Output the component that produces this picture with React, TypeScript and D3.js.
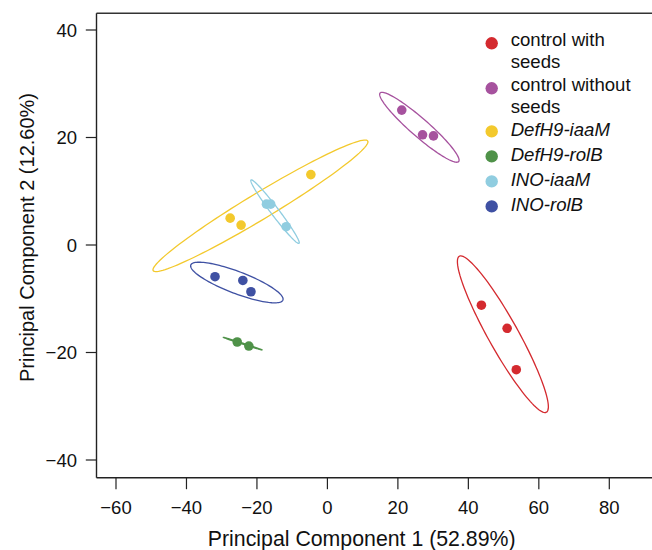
import React from 'react';
import * as d3 from 'd3';

// PCA scores
const groups = ['control with seeds', 'control without seeds', 'DefH9-iaaM', 'DefH9-rolB', 'INO-iaaM', 'INO-rolB'];
const legendLines = [['control with', 'seeds'], ['control without', 'seeds'], ['DefH9-iaaM'], ['DefH9-rolB'], ['INO-iaaM'], ['INO-rolB']];
const italicLabel = [false, false, true, true, true, true];
const colors = ['#d42a2f', '#a6529e', '#f3c92d', '#4f9249', '#90cde0', '#3f51a3'];

const pc1 = [
  [43.7, 51.0, 53.6],
  [21.1, 27.0, 30.1],
  [-27.6, -24.5, -4.7],
  [-25.6, -22.3],
  [-17.3, -16.1, -11.7],
  [-31.9, -24.0, -21.7],
];
const pc2 = [
  [-11.2, -15.5, -23.2],
  [25.1, 20.5, 20.3],
  [5.0, 3.7, 13.1],
  [-18.05, -18.8],
  [7.6, 7.6, 3.4],
  [-5.9, -6.6, -8.7],
];

// confidence ellipses: centre, major and minor semi-axis vectors (data units)
const ellCenter = [[49.8, -16.6], [26.1, 21.9], [-19.0, 7.29], [-24.0, -18.36], [-14.86, 6.2], [-25.7, -6.98]];
const ellMajor = [[12.36, -14.51], [11.14, -6.38], [30.45, 12.06], [5.54, -1.18], [6.82, -5.9], [13.07, -3.26]];
const ellMinor = [[3.72, 1.36], [1.69, 1.26], [1.91, -2.07], [-0.04, -0.09], [0.91, 0.45], [-1.11, -1.91]];

const xTicks = [-60, -40, -20, 0, 20, 40, 60, 80];
const yTicks = [-40, -20, 0, 20, 40];

const W = 652;
const H = 550;
const font = '"Liberation Sans", Arial, Helvetica, sans-serif';

export default function App() {
  const x = d3.scaleLinear().domain([-60, 80]).range([116, 609.3]);
  const y = d3.scaleLinear().domain([-40, 40]).range([460, 30]);

  const left = 96.5;
  const top = 13.3;
  const bottom = 477.7;

  const ts = d3.range(0, 121).map(i => (2 * Math.PI * i) / 120);
  const line = d3.line<number[]>().x(d => x(d[0])).y(d => y(d[1]));
  const fmt = (v: number) => (v < 0 ? '\u2212' + Math.abs(v) : String(v));

  let legendY = 45.7;
  const legendPos = legendLines.map(lines => {
    const p = legendY;
    legendY += 25 + (lines.length - 1) * 20;
    return p;
  });

  return (
    <div style={{ position: 'absolute', left: 0, top: 0 }}>
      <svg width={W} height={H} style={{ display: 'block', background: '#fff' }} fontFamily={font}>
        {/* frame */}
        <line x1={left} x2={W + 10} y1={top} y2={top} stroke="#333" strokeWidth={1.4} />
        <line x1={left} x2={left} y1={top} y2={bottom} stroke="#222" strokeWidth={1.4} />
        <line x1={left} x2={W + 10} y1={bottom} y2={bottom} stroke="#222" strokeWidth={1.4} />

        {/* x axis */}
        {xTicks.map(t => (
          <g key={'x' + t}>
            <line x1={x(t)} x2={x(t)} y1={bottom} y2={bottom + 11.5} stroke="#222" strokeWidth={1.2} />
            <text x={x(t)} y={514} textAnchor="middle" fontSize={18.5} fill="#111">{fmt(t)}</text>
          </g>
        ))}
        {/* y axis */}
        {yTicks.map(t => (
          <g key={'y' + t}>
            <line x1={left - 10.7} x2={left} y1={y(t)} y2={y(t)} stroke="#222" strokeWidth={1.2} />
            <text x={77} y={y(t)} dy="0.36em" textAnchor="end" fontSize={18.5} fill="#111">{fmt(t)}</text>
          </g>
        ))}

        <text x={361.7} y={545.7} textAnchor="middle" fontSize={21.3} fill="#111">Principal Component 1 (52.89%)</text>
        <text transform={`translate(33.5, 237.5) rotate(-90)`} textAnchor="middle" fontSize={20} fill="#111">Principal Component 2 (12.60%)</text>

        {/* ellipses */}
        {groups.map((g, i) => {
          const pts = ts.map(t => [
            ellCenter[i][0] + Math.cos(t) * ellMajor[i][0] + Math.sin(t) * ellMinor[i][0],
            ellCenter[i][1] + Math.cos(t) * ellMajor[i][1] + Math.sin(t) * ellMinor[i][1],
          ]);
          return <path key={'e' + g} d={line(pts) || ''} fill="none" stroke={colors[i]} strokeWidth={1.3} />;
        })}

        {/* points */}
        {groups.map((g, i) =>
          pc1[i].map((v, j) => (
            <circle key={g + j} cx={x(v)} cy={y(pc2[i][j])} r={4.8} fill={colors[i]} />
          ))
        )}

        {/* legend */}
        {groups.map((g, i) => (
          <g key={'l' + g}>
            <circle cx={491.7} cy={legendPos[i] - (legendLines[i].length > 1 ? 2.4 : 4.3)} r={6.2} fill={colors[i]} />
            {legendLines[i].map((s, k) => (
              <text key={k} x={510.7} y={legendPos[i] + k * 22} fontSize={18.6} fill="#111" fontStyle={italicLabel[i] ? 'italic' : 'normal'}>{s}</text>
            ))}
          </g>
        ))}
      </svg>
    </div>
  );
}
